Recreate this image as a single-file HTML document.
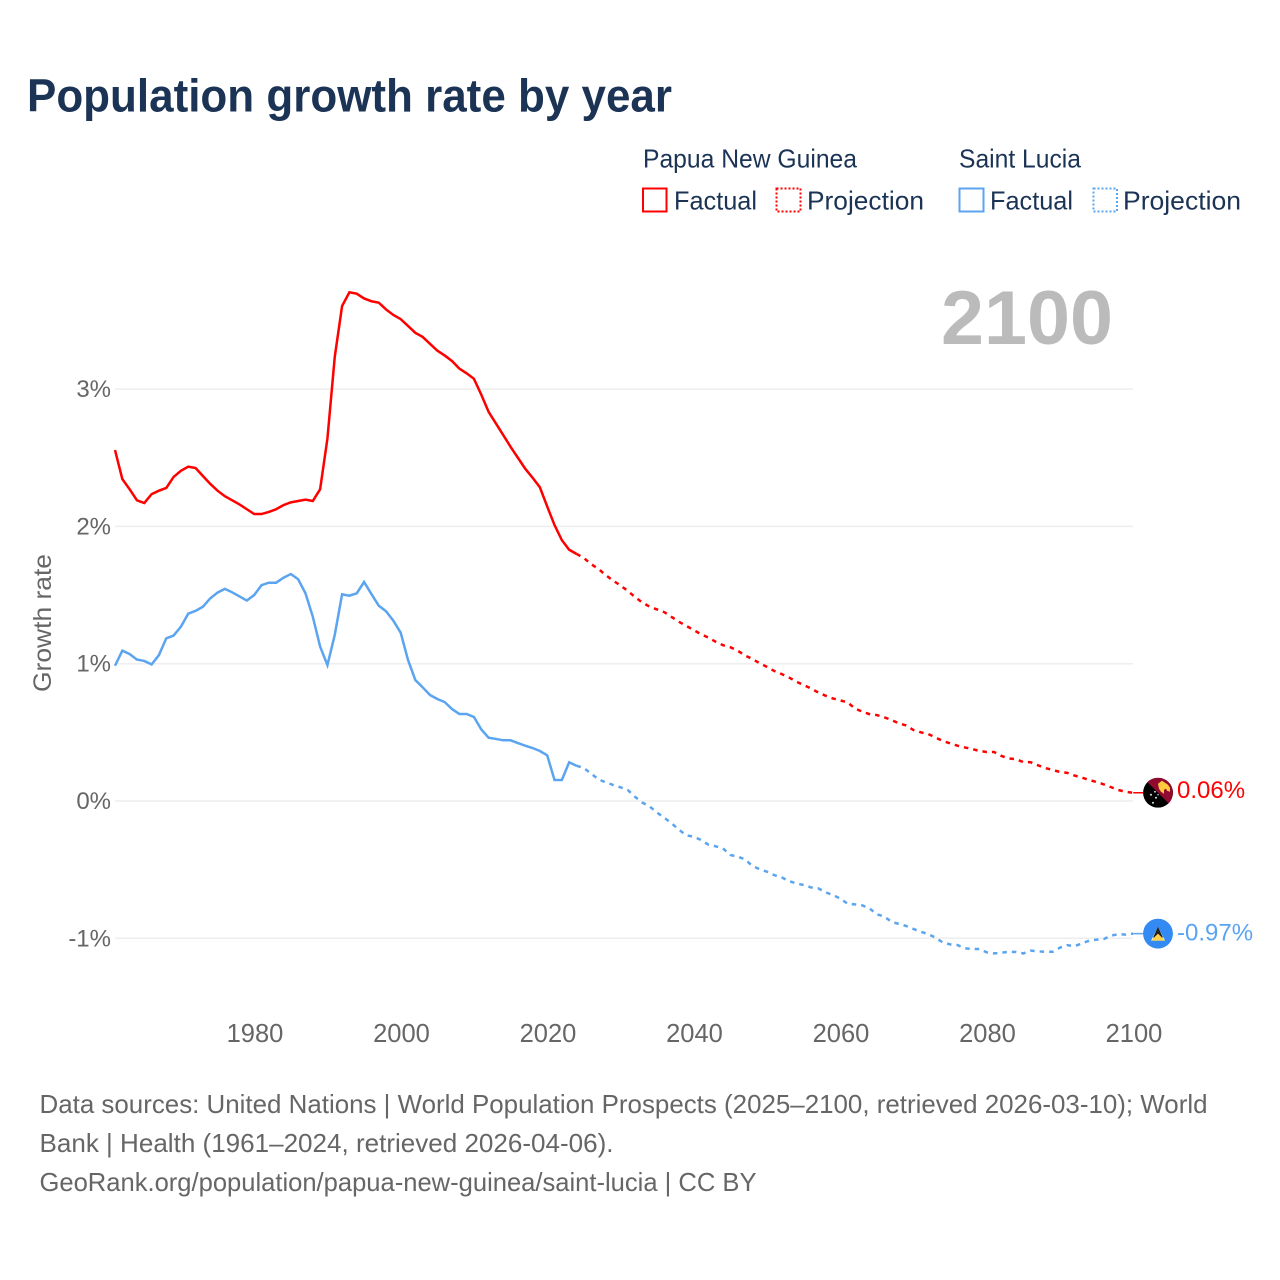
<!DOCTYPE html>
<html lang="en">
<head>
<meta charset="utf-8">
<title>Population growth rate by year</title>
<style>
  html, body { margin: 0; padding: 0; background: #fff; }
  svg { display: block; font-family: "Liberation Sans", sans-serif; }
</style>
</head>
<body>
<svg id="chart" xmlns="http://www.w3.org/2000/svg" width="1280" height="1280" viewBox="0 0 1280 1280">
  <defs>
    <clipPath id="flag-clip"><circle cx="0" cy="0" r="15"></circle></clipPath>
  </defs>
  <rect x="0" y="0" width="1280" height="1280" fill="#ffffff"></rect>

  <text x="27" y="111.5" font-size="46" font-weight="700" fill="#1b3354" textLength="645" lengthAdjust="spacingAndGlyphs">Population growth rate by year</text>

  <g font-size="26" fill="#1b3354">
    <text x="643" y="167.5" textLength="214" lengthAdjust="spacingAndGlyphs">Papua New Guinea</text>
    <text x="959" y="167.5" textLength="122" lengthAdjust="spacingAndGlyphs">Saint Lucia</text>

    <rect x="643" y="188.5" width="23.5" height="23" fill="none" stroke="#ff0000" stroke-width="2"></rect>
    <text x="674" y="209.5" textLength="83" lengthAdjust="spacingAndGlyphs">Factual</text>
    <rect x="776.5" y="188.5" width="24" height="23" fill="none" stroke="#ff0000" stroke-width="2" stroke-dasharray="2 2"></rect>
    <text x="807" y="209.5" textLength="117" lengthAdjust="spacingAndGlyphs">Projection</text>

    <rect x="959.5" y="188.5" width="24" height="23" fill="none" stroke="#5ba4f0" stroke-width="2"></rect>
    <text x="990" y="209.5" textLength="83" lengthAdjust="spacingAndGlyphs">Factual</text>
    <rect x="1093.5" y="188.5" width="23.5" height="23" fill="none" stroke="#5ba4f0" stroke-width="2" stroke-dasharray="2 2"></rect>
    <text x="1123" y="209.5" textLength="118" lengthAdjust="spacingAndGlyphs">Projection</text>
  </g>

  <g id="grid"></g>
  <g id="y-ticks"></g>
  <g id="x-ticks"></g>

  <text transform="translate(51,692) rotate(-90)" font-size="25" fill="#666666" textLength="138" lengthAdjust="spacingAndGlyphs">Growth rate</text>

  <text x="941" y="344" font-size="76" font-weight="700" fill="#bbbbbb" textLength="172" lengthAdjust="spacingAndGlyphs">2100</text>

  <g id="series"></g>

  <g id="flag-png" clip-path="url(#flag-clip)">
    <circle cx="0" cy="0" r="15" fill="#000000"></circle>
    <polygon points="-15,-15 15,-15 15,15" fill="#8f0a2e"></polygon>
    <path d="M0,-9 L4,-12 L7,-10 L10,-8 L12,-5 L12,-1 L9,-2 L8,-4 L6,-3 L6,1 L3,-1 L1,-4 Z" fill="#ffc83d"></path>
    <g fill="#dfe6f2">
      <circle cx="-7" cy="2" r="1"></circle>
      <circle cx="-3" cy="-1" r="0.9"></circle>
      <circle cx="-2" cy="5" r="1"></circle>
      <circle cx="-5" cy="10" r="1"></circle>
      <circle cx="0" cy="2" r="0.7"></circle>
    </g>
  </g>

  <g id="flag-lca" clip-path="url(#flag-clip)">
    <circle cx="0" cy="0" r="15" fill="#338af3"></circle>
    <polygon points="0,-7 7,7 -7,7" fill="#f4f4f4"></polygon>
    <polygon points="0,-7 5,4 -5,4" fill="#222222"></polygon>
    <polygon points="0,0 7,7 -7,7" fill="#ffd24a"></polygon>
  </g>

  <g id="end-labels" font-size="24"></g>

  <g font-size="26" fill="#666666">
    <text x="39.5" y="1113" textLength="1168" lengthAdjust="spacingAndGlyphs">Data sources: United Nations | World Population Prospects (2025–2100, retrieved 2026-03-10); World</text>
    <text x="39.5" y="1152" textLength="574" lengthAdjust="spacingAndGlyphs">Bank | Health (1961–2024, retrieved 2026-04-06).</text>
    <text x="39.5" y="1191" textLength="717" lengthAdjust="spacingAndGlyphs">GeoRank.org/population/papua-new-guinea/saint-lucia | CC BY</text>
  </g>
</svg>

<script>
const yTickValues = [-1, 0, 1, 2, 3];
const yTickLabels = ["-1%", "0%", "1%", "2%", "3%"];
const xTickValues = [1980, 2000, 2020, 2040, 2060, 2080, 2100];
const xTickLabels = ["1980", "2000", "2020", "2040", "2060", "2080", "2100"];

const factualYears = [1961,1962,1963,1964,1965,1966,1967,1968,1969,1970,1971,1972,1973,1974,1975,1976,1977,1978,1979,1980,1981,1982,1983,1984,1985,1986,1987,1988,1989,1990,1991,1992,1993,1994,1995,1996,1997,1998,1999,2000,2001,2002,2003,2004,2005,2006,2007,2008,2009,2010,2011,2012,2013,2014,2015,2016,2017,2018,2019,2020,2021,2022,2023,2024];
const projectionYears = [2024,2025,2026,2027,2028,2029,2030,2031,2032,2033,2034,2035,2036,2037,2038,2039,2040,2041,2042,2043,2044,2045,2046,2047,2048,2049,2050,2051,2052,2053,2054,2055,2056,2057,2058,2059,2060,2061,2062,2063,2064,2065,2066,2067,2068,2069,2070,2071,2072,2073,2074,2075,2076,2077,2078,2079,2080,2081,2082,2083,2084,2085,2086,2087,2088,2089,2090,2091,2092,2093,2094,2095,2096,2097,2098,2099,2100];

const pngFactual = [2.556,2.345,2.27,2.19,2.17,2.235,2.26,2.28,2.36,2.405,2.435,2.425,2.367,2.31,2.26,2.22,2.19,2.16,2.125,2.09,2.09,2.105,2.125,2.155,2.175,2.185,2.195,2.185,2.27,2.64,3.235,3.605,3.705,3.695,3.66,3.64,3.63,3.58,3.54,3.51,3.46,3.41,3.38,3.33,3.28,3.245,3.205,3.15,3.115,3.075,2.96,2.835,2.75,2.665,2.58,2.50,2.42,2.355,2.285,2.145,2.01,1.90,1.83,1.80];
const pngProjection = [1.80,1.77,1.725,1.69,1.645,1.605,1.57,1.53,1.485,1.445,1.415,1.395,1.375,1.34,1.305,1.275,1.245,1.215,1.19,1.16,1.135,1.12,1.095,1.06,1.035,1.003,0.977,0.947,0.925,0.90,0.87,0.845,0.82,0.79,0.767,0.747,0.733,0.718,0.675,0.65,0.633,0.626,0.61,0.59,0.566,0.55,0.517,0.50,0.488,0.463,0.437,0.42,0.403,0.39,0.379,0.364,0.357,0.357,0.328,0.31,0.304,0.284,0.282,0.26,0.24,0.226,0.211,0.205,0.185,0.17,0.153,0.138,0.121,0.10,0.08,0.066,0.06];

const lcaFactual = [0.985,1.095,1.07,1.03,1.02,0.995,1.063,1.185,1.205,1.27,1.365,1.385,1.415,1.476,1.518,1.545,1.52,1.49,1.46,1.50,1.572,1.59,1.59,1.626,1.653,1.615,1.513,1.343,1.125,0.99,1.21,1.505,1.495,1.513,1.595,1.508,1.423,1.382,1.313,1.226,1.027,0.881,0.828,0.772,0.743,0.721,0.67,0.634,0.634,0.612,0.522,0.461,0.452,0.442,0.442,0.422,0.403,0.386,0.364,0.333,0.153,0.153,0.282,0.257];
const lcaProjection = [0.257,0.24,0.20,0.157,0.136,0.117,0.10,0.08,0.03,-0.012,-0.04,-0.085,-0.122,-0.163,-0.21,-0.25,-0.26,-0.284,-0.318,-0.33,-0.345,-0.393,-0.405,-0.425,-0.473,-0.497,-0.515,-0.54,-0.556,-0.583,-0.60,-0.612,-0.629,-0.636,-0.665,-0.685,-0.71,-0.748,-0.753,-0.76,-0.782,-0.825,-0.842,-0.879,-0.896,-0.91,-0.932,-0.952,-0.969,-0.995,-1.03,-1.044,-1.049,-1.073,-1.078,-1.078,-1.102,-1.11,-1.105,-1.098,-1.10,-1.11,-1.09,-1.095,-1.098,-1.098,-1.068,-1.05,-1.058,-1.037,-1.017,-1.01,-1.005,-0.98,-0.97,-0.973,-0.966];

const RED = "#ff0000";
const BLUE = "#5ba4f0";
const NS = "http://www.w3.org/2000/svg";

function xScale(year) {
  return 115 + (year - 1961) * (1133.2 - 115) / (2100 - 1961);
}
function yScale(value) {
  return 801 - value * 137.3;
}
function make(tag, parentId) {
  const el = document.createElementNS(NS, tag);
  document.getElementById(parentId).appendChild(el);
  return el;
}
function linePoints(years, values) {
  return years.map(function (yr, i) {
    return xScale(yr).toFixed(2) + "," + yScale(values[i]).toFixed(2);
  }).join(" ");
}

yTickValues.forEach(function (v, i) {
  const g = make("line", "grid");
  
  
  g.setAttribute("x1", 115);
  g.setAttribute("x2", 1133);
  g.setAttribute("y1", yScale(v));
  g.setAttribute("y2", yScale(v));
  g.setAttribute("stroke", "#eeeeee");
  g.setAttribute("stroke-width", "1.5");

  const t = make("text", "y-ticks");
  
  
  t.setAttribute("x", 111);
  t.setAttribute("y", yScale(v) + 8);
  t.setAttribute("text-anchor", "end");
  t.setAttribute("font-size", "24");
  t.setAttribute("fill", "#666666");
  t.textContent = yTickLabels[i];
});

xTickValues.forEach(function (v, i) {
  const t = make("text", "x-ticks");
  
  
  t.setAttribute("x", xScale(v) + 0.8);
  t.setAttribute("y", 1042);
  t.setAttribute("text-anchor", "middle");
  t.setAttribute("font-size", "25.5");
  t.setAttribute("fill", "#666666");
  t.textContent = xTickLabels[i];
});

const pngFactualLine = make("polyline", "series");


pngFactualLine.setAttribute("points", linePoints(factualYears, pngFactual));
pngFactualLine.setAttribute("fill", "none");
pngFactualLine.setAttribute("stroke", RED);
pngFactualLine.setAttribute("stroke-width", "2.5");

const pngProjectionLine = make("polyline", "series");


pngProjectionLine.setAttribute("points", linePoints(projectionYears, pngProjection));
pngProjectionLine.setAttribute("fill", "none");
pngProjectionLine.setAttribute("stroke", RED);
pngProjectionLine.setAttribute("stroke-width", "2.5");
pngProjectionLine.setAttribute("stroke-dasharray", "4.5 5");

const lcaFactualLine = make("polyline", "series");


lcaFactualLine.setAttribute("points", linePoints(factualYears, lcaFactual));
lcaFactualLine.setAttribute("fill", "none");
lcaFactualLine.setAttribute("stroke", BLUE);
lcaFactualLine.setAttribute("stroke-width", "2.5");

const lcaProjectionLine = make("polyline", "series");


lcaProjectionLine.setAttribute("points", linePoints(projectionYears, lcaProjection));
lcaProjectionLine.setAttribute("fill", "none");
lcaProjectionLine.setAttribute("stroke", BLUE);
lcaProjectionLine.setAttribute("stroke-width", "2.5");
lcaProjectionLine.setAttribute("stroke-dasharray", "4.5 5");

const pngEndValue = pngProjection[pngProjection.length - 1];
const lcaEndValue = lcaProjection[lcaProjection.length - 1];
const flagX = 1158;

document.getElementById("flag-png").setAttribute("transform", "translate(" + flagX + "," + yScale(pngEndValue) + ")");
document.getElementById("flag-lca").setAttribute("transform", "translate(" + flagX + "," + yScale(lcaEndValue) + ")");

const pngLeader = make("line", "series");


pngLeader.setAttribute("x1", xScale(2100));
pngLeader.setAttribute("x2", flagX - 15);
pngLeader.setAttribute("y1", yScale(pngEndValue));
pngLeader.setAttribute("y2", yScale(pngEndValue));
pngLeader.setAttribute("stroke", RED);
pngLeader.setAttribute("stroke-width", "1.5");

const lcaLeader = make("line", "series");


lcaLeader.setAttribute("x1", xScale(2100));
lcaLeader.setAttribute("x2", flagX - 15);
lcaLeader.setAttribute("y1", yScale(lcaEndValue));
lcaLeader.setAttribute("y2", yScale(lcaEndValue));
lcaLeader.setAttribute("stroke", BLUE);
lcaLeader.setAttribute("stroke-width", "1.5");

const pngLabel = make("text", "end-labels");


pngLabel.setAttribute("x", 1177);
pngLabel.setAttribute("y", yScale(pngEndValue) + 5);
pngLabel.setAttribute("fill", RED);
pngLabel.textContent = pngEndValue.toFixed(2) + "%";

const lcaLabel = make("text", "end-labels");


lcaLabel.setAttribute("x", 1177);
lcaLabel.setAttribute("y", yScale(lcaEndValue) + 7);
lcaLabel.setAttribute("fill", BLUE);
lcaLabel.textContent = lcaEndValue.toFixed(2) + "%";
</script>
</body>
</html>
